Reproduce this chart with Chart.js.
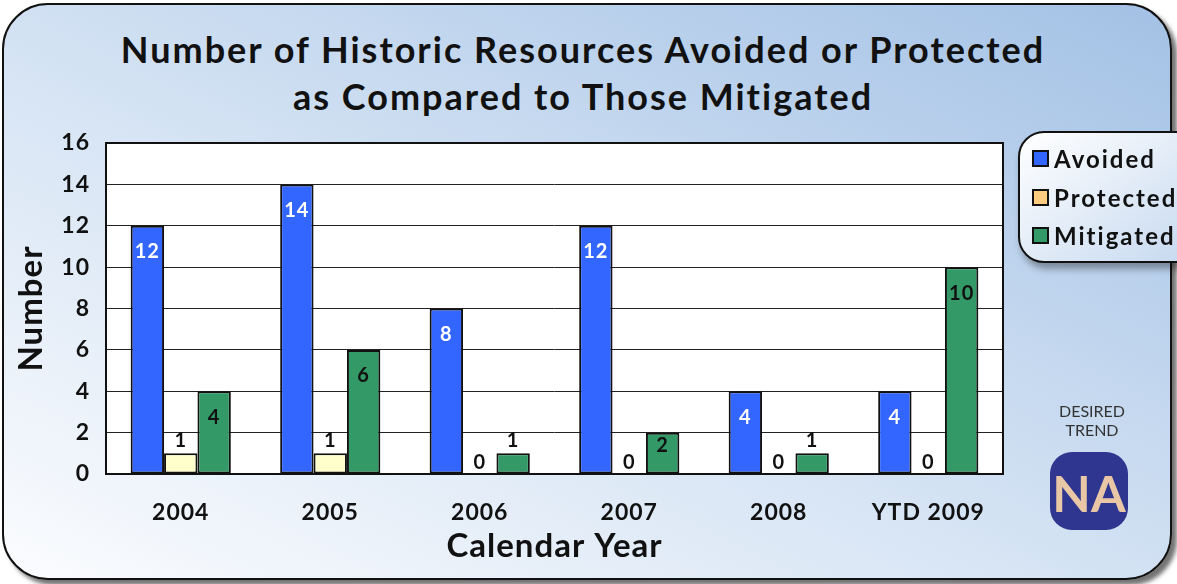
<!DOCTYPE html>
<html>
<head>
<meta charset="utf-8">
<script src="https://cdn.jsdelivr.net/npm/chart.js@4.4.1/dist/chart.umd.min.js"></script>
<style>
  body { margin: 0; width: 1177px; height: 584px; overflow: hidden; background: #fff; position: relative; font-family: Lato, "DejaVu Sans", sans-serif; }
  #panel { position: absolute; left: 2px; top: 3px; width: 1166px; height: 573px; border: 2px solid #111; border-radius: 46px;
    background: linear-gradient(to top right, #fbfcfe 0%, #d6e4f4 45%, #a3c1e5 100%);
    box-shadow: 5px 5px 4px rgba(0,0,0,0.55); }
  #title { position: absolute; left: 0; top: 26px; width: 1166px; text-align: center; font-size: 36px; font-weight: bold; line-height: 47px; letter-spacing: 2px; color: #111; }
  #chart { position: absolute; left: 0; top: 0; }
  #legend { position: absolute; left: 1018px; top: 131px; width: 180px; height: 128px; border: 2.5px solid #111; border-radius: 26px;
    background: linear-gradient(to bottom right, #ffffff, #c5d8ef); box-shadow: 3px 6px 7px rgba(0,0,0,0.35); }
  .item { position: absolute; left: 12px; font-size: 24px; font-weight: bold; color: #111; line-height: 28px; letter-spacing: 2px; white-space: nowrap; }
  .sw { display: inline-block; width: 13px; height: 13px; border: 2px solid #111; margin-right: 5px; vertical-align: 1px; }
  #trend { position: absolute; left: 1032px; top: 401px; width: 120px; text-align: center; font-size: 16px; line-height: 19px; color: #333; }
  #badge { position: absolute; left: 1050px; top: 452px; width: 78px; height: 78px; border-radius: 22px; background: #2e3690;
    color: #e8c6a6; font-size: 50px; font-weight: bold; text-align: center; line-height: 82px; }
</style>
</head>
<body>
<div id="panel"></div>
<div id="title">Number of Historic Resources Avoided or Protected<br>as Compared to Those Mitigated</div>
<canvas id="chart" width="1177" height="584"></canvas>
<div id="legend">
  <div class="item" style="top:12px"><span class="sw" style="background:#3366ff"></span>Avoided</div>
  <div class="item" style="top:51px"><span class="sw" style="background:#ffcc80"></span>Protected</div>
  <div class="item" style="top:89px"><span class="sw" style="background:#339966"></span>Mitigated</div>
</div>
<div id="trend">DESIRED<br>TREND</div>
<div id="badge">NA</div>
<script>
var years = ['2004', '2005', '2006', '2007', '2008', 'YTD 2009'];
var avoided = [12, 14, 8, 12, 4, 4];
var protectedRes = [1, 1, 0, 0, 0, 0];
var mitigated = [4, 6, 1, 2, 1, 10];
var yTicks = [0, 2, 4, 6, 8, 10, 12, 14, 16];

// wider lettering, closer to the original typeface
var spacing = {
  id: 'spacing',
  beforeUpdate: function(chart) { chart.ctx.letterSpacing = '1px'; },
  beforeDraw: function(chart) { chart.ctx.letterSpacing = '1px'; }
};

var plotFrame = {
  id: 'plotFrame',
  beforeDraw: function(chart) {
    var a = chart.chartArea, ctx = chart.ctx;
    ctx.save();
    ctx.fillStyle = '#fff';
    ctx.fillRect(a.left, a.top, a.right - a.left, a.bottom - a.top);
    ctx.restore();
  },
  afterDatasetsDraw: function(chart) {
    var a = chart.chartArea, ctx = chart.ctx;
    ctx.save();
    ctx.strokeStyle = '#111';
    ctx.lineWidth = 2;
    ctx.strokeRect(a.left, a.top, a.right - a.left, a.bottom - a.top);
    ctx.restore();
  }
};

// numbers on the bars
var valueLabels = {
  id: 'valueLabels',
  afterDraw: function(chart) {
    var ctx = chart.ctx, bottom = chart.chartArea.bottom;
    ctx.save();
    ctx.font = 'bold 20px Lato';
    ctx.textAlign = 'center';
    ctx.textBaseline = 'middle';
    chart.data.datasets.forEach(function(ds, i) {
      chart.getDatasetMeta(i).data.forEach(function(bar, j) {
        var v = ds.data[j];
        var h = bottom - bar.y;
        var y, color = '#111';
        if (v === 0) y = bottom - 11;
        else if (i === 1 || h < 30) y = bar.y - 13;
        else if (h < 60) y = bar.y + 13;
        else y = bar.y + 26;
        if (i === 0) color = '#fff';
        ctx.fillStyle = color;
        ctx.fillText(String(v), bar.x, y);
      });
    });
    ctx.restore();
  }
};

var ctx = document.getElementById('chart');
var tickFont = { family: 'Lato', size: 23, weight: 'bold' };

var chart = new Chart(ctx, {
  type: 'bar',
  data: {
    labels: years,
    datasets: [
      { label: 'Avoided', data: avoided, backgroundColor: '#3366ff', borderColor: '#111', borderWidth: 2, borderSkipped: false },
      { label: 'Protected', data: protectedRes, backgroundColor: '#ffffcc', borderColor: '#111', borderWidth: 2, borderSkipped: false },
      { label: 'Mitigated', data: mitigated, backgroundColor: '#339966', borderColor: '#111', borderWidth: 2, borderSkipped: false }
    ]
  },
  options: {
    responsive: false,
    animation: false,
    categoryPercentage: 0.67,
    barPercentage: 1.0,
    layout: { padding: { left: 12, right: 174, top: 143, bottom: 0 } },
    plugins: { legend: { display: false }, tooltip: { enabled: false } },
    scales: {
      x: {
        grid: { display: false, drawTicks: false },
        border: { display: false },
        ticks: { font: tickFont, color: '#111', padding: 25 },
        title: { display: true, text: 'Calendar Year', color: '#111', font: { family: 'Lato', size: 33, weight: 'bold' }, padding: { top: 0, bottom: 18 } },
        afterFit: function(s) { s.height = 110; }
      },
      y: {
        min: 0,
        max: 16,
        afterBuildTicks: function(s) { s.ticks = yTicks.map(function(v) { return { value: v }; }); },
        grid: { color: '#222', lineWidth: 1, drawTicks: false },
        border: { display: false },
        ticks: { font: tickFont, color: '#111', padding: 16 },
        title: { display: true, text: 'Number', color: '#111', font: { family: 'Lato', size: 33, weight: 'bold' }, padding: { top: 0, bottom: 0 } },
        afterFit: function(s) { s.width = 94; }
      }
    }
  },
  plugins: [spacing, plotFrame, valueLabels]
});
</script>
</body>
</html>
